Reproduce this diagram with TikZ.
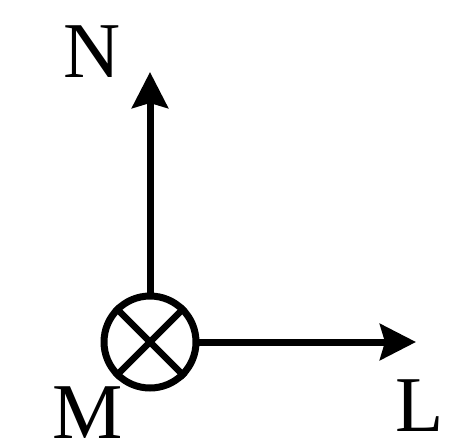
\documentclass[tikz,border=0pt]{standalone}
\usepackage{fontspec}
\setmainfont{Liberation Serif}
\usetikzlibrary{arrows.meta}

\begin{document}
\begin{tikzpicture}[
  x=0.02cm, y=-0.02cm,
  every node/.style={inner sep=0pt},
  crossnode/.style={
    circle, draw=black, line width=0.14cm,
    minimum size=1.84cm,
  },
  vec/.style={
    line width=0.14cm,
    -{Stealth[length=0.72cm, width=0.72cm, inset=0.1cm]},
  },
  lbl/.style={font=\fontsize{45}{50}\selectfont},
]
% ----- frame of the picture -----
\useasboundingbox (0,0) rectangle (462,446);

% ----- crossed circle (into the page) -----
\node[crossnode] (M) at (150,342) {};
\draw[line width=0.13cm] (M.north west) -- (M.south east);
\draw[line width=0.13cm] (M.north east) -- (M.south west);

% ----- tips of the two vectors -----
\coordinate (Ntip) at (150,72);
\coordinate (Ltip) at (416,342);

\draw[vec] (M.north) -- (Ntip);
\draw[vec] (M.east) -- (Ltip);

% ----- letters -----
\node[lbl] (Nlbl) at (92,52) {N};
\node[lbl] (Mlbl) at (88,413) {M};
\node[lbl] (Llbl) at (420,406) {L};

\end{tikzpicture}
\end{document}
